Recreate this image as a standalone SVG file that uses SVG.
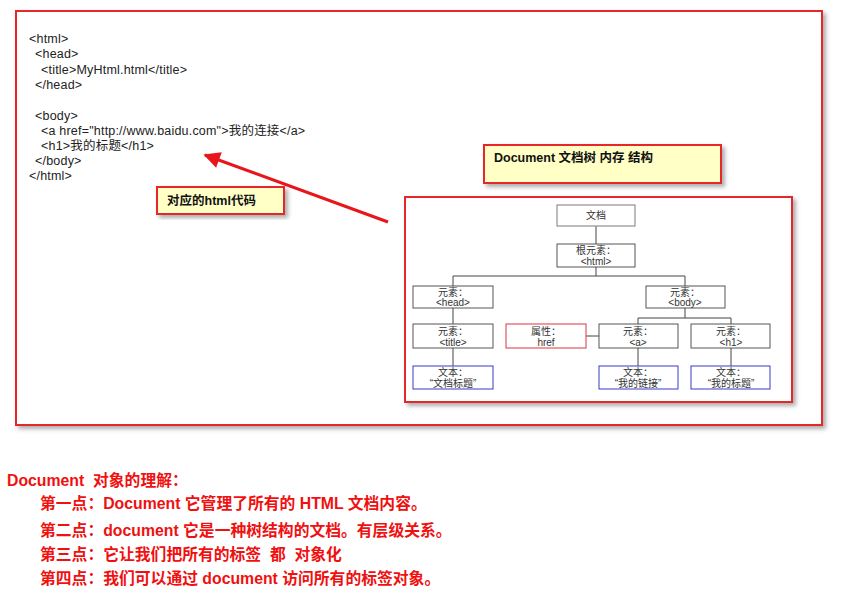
<svg xmlns="http://www.w3.org/2000/svg" width="865" height="593" viewBox="0 0 865 593">
<defs>
<filter id="sh" x="-10%" y="-10%" width="130%" height="130%">
<feDropShadow dx="3" dy="3" stdDeviation="2" flood-color="#777" flood-opacity="0.6"/>
</filter>
<marker id="ah" viewBox="0 0 10 10" refX="9" refY="5" markerWidth="7.5" markerHeight="5.5" orient="auto" markerUnits="strokeWidth">
<path d="M0,0 L10,5 L0,10 z" fill="#e8161b"/>
</marker>
<style>
.frame{fill:#fff;stroke:#e5262a;stroke-width:2;}
.callout{fill:#ffffc6;stroke:#e5262a;stroke-width:2;}
.code{font-family:"Liberation Sans","Noto Sans CJK SC",sans-serif;font-size:12.5px;letter-spacing:0.2px;fill:#222;}
.ct{font-family:"Liberation Sans","Noto Sans CJK SC",sans-serif;font-size:12.5px;font-weight:bold;fill:#111;}
.n{fill:#fff;stroke:#555;stroke-width:1;}
.ng{fill:#fff;stroke:#999;stroke-width:1.3;}
.nr{fill:#fff;stroke:#d9363c;stroke-width:1;}
.nb{fill:#fff;stroke:#3a3acc;stroke-width:1;}
.t{font-family:"Liberation Sans","Noto Sans CJK SC",sans-serif;font-size:10px;fill:#333;text-anchor:middle;}
.ln{stroke:#444;stroke-width:1;fill:none;}
.note{font-family:"Liberation Sans","Noto Sans CJK SC",sans-serif;font-size:15.8px;font-weight:bold;fill:#f01010;white-space:pre;}
</style>
</defs>
<rect width="865" height="593" fill="#fff"/>

<g id="outer-frame">
<rect class="frame" x="16" y="11" width="806" height="414" filter="url(#sh)"/>
</g>

<g id="html-code">
<text class="code" x="29" y="43">&lt;html&gt;</text>
<text class="code" x="35" y="58">&lt;head&gt;</text>
<text class="code" x="41" y="74">&lt;title&gt;MyHtml.html&lt;/title&gt;</text>
<text class="code" x="35" y="89">&lt;/head&gt;</text>
<text class="code" x="35" y="120">&lt;body&gt;</text>
<text class="code" x="41" y="135">&lt;a href="http://www.baidu.com"&gt;我的连接&lt;/a&gt;</text>
<text class="code" x="41" y="150">&lt;h1&gt;我的标题&lt;/h1&gt;</text>
<text class="code" x="35" y="165">&lt;/body&gt;</text>
<text class="code" x="29" y="180">&lt;/html&gt;</text>
</g>

<g id="callout-html">
<rect class="callout" x="157" y="187" width="127" height="27" filter="url(#sh)"/>
<text class="ct" x="167" y="205">对应的html代码</text>
</g>

<g id="callout-doc">
<rect class="callout" x="484" y="145" width="237" height="38" filter="url(#sh)"/>
<text class="ct" x="494" y="162">Document 文档树 内存 结构</text>
</g>

<g id="tree-frame">
<rect class="frame" x="405" y="197" width="387" height="205" filter="url(#sh)"/>
</g>

<g id="connectors">
<line x1="388" y1="222" x2="205" y2="155" stroke="#e8161b" stroke-width="3" marker-end="url(#ah)"/>
<path class="ln" d="M596,226 V244"/>
<path class="ln" d="M596,267 V276 M453,276 H685 M453,276 V286 M685,276 V286"/>
<path class="ln" d="M453,308 V324 M453,348 V366"/>
<path class="ln" d="M685,308 V318 M638,318 H731 M638,318 V324 M731,318 V324"/>
<path class="ln" d="M586,336 H599"/>
<path class="ln" d="M638,348 V366 M731,348 V366"/>
</g>

<g id="node-doc">
<rect class="ng" x="557" y="205" width="78" height="21"/>
<text class="t" x="596" y="219">文档</text>
</g>
<g id="node-html">
<rect class="n" x="557" y="244" width="78" height="23"/>
<text class="t" x="596" y="254">根元素：</text>
<text class="t" x="596" y="265">&lt;html&gt;</text>
</g>
<g id="node-head">
<rect class="n" x="413" y="286" width="80" height="22"/>
<text class="t" x="453" y="296">元素：</text>
<text class="t" x="453" y="306">&lt;head&gt;</text>
</g>
<g id="node-body">
<rect class="n" x="646" y="286" width="79" height="22"/>
<text class="t" x="685" y="296">元素：</text>
<text class="t" x="685" y="306">&lt;body&gt;</text>
</g>
<g id="node-title">
<rect class="n" x="413" y="324" width="80" height="24"/>
<text class="t" x="453" y="335">元素：</text>
<text class="t" x="453" y="346">&lt;title&gt;</text>
</g>
<g id="node-href">
<rect class="nr" x="506" y="324" width="80" height="24"/>
<text class="t" x="546" y="335">属性：</text>
<text class="t" x="546" y="346">href</text>
</g>
<g id="node-a">
<rect class="n" x="599" y="324" width="79" height="24"/>
<text class="t" x="638" y="335">元素：</text>
<text class="t" x="638" y="346">&lt;a&gt;</text>
</g>
<g id="node-h1">
<rect class="n" x="691" y="324" width="79" height="24"/>
<text class="t" x="731" y="335">元素：</text>
<text class="t" x="731" y="346">&lt;h1&gt;</text>
</g>
<g id="node-text-title">
<rect class="nb" x="413" y="366" width="80" height="23"/>
<text class="t" x="453" y="376">文本：</text>
<text class="t" x="453" y="387">“文档标题”</text>
</g>
<g id="node-text-a">
<rect class="nb" x="599" y="366" width="79" height="23"/>
<text class="t" x="638" y="376">文本：</text>
<text class="t" x="638" y="387">“我的链接”</text>
</g>
<g id="node-text-h1">
<rect class="nb" x="691" y="366" width="79" height="23"/>
<text class="t" x="731" y="376">文本：</text>
<text class="t" x="731" y="387">“我的标题”</text>
</g>

<g id="notes">
<text class="note" x="7" y="486">Document  对象的理解：</text>
<text class="note" x="40" y="509">第一点：Document 它管理了所有的 HTML 文档内容。</text>
<text class="note" x="40" y="536">第二点：document 它是一种树结构的文档。有层级关系。</text>
<text class="note" x="40" y="560">第三点：它让我们把所有的标签  都  对象化</text>
<text class="note" x="40" y="584">第四点：我们可以通过 document 访问所有的标签对象。</text>
</g>
</svg>
